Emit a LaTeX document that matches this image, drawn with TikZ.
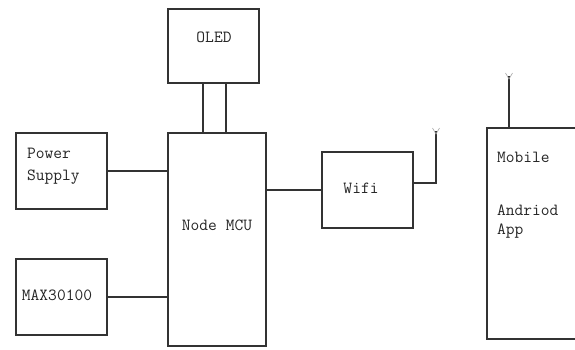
\documentclass[tikz,border=0pt]{standalone}
\usepackage{fontspec}
\usetikzlibrary{calc}
\tikzset{
  blk/.style={draw=black!80, line width=1.3pt, fill=white, inner sep=0pt},
  txt/.style={text=black!85, font=\ttfamily\fontsize{17}{20}\selectfont, inner sep=0pt},
  wire/.style={draw=black!80, line width=1.3pt},
  fork/.style={draw=black!35, line width=0.6pt}
}
\begin{document}
\begin{tikzpicture}[x=1pt,y=-1pt]
\clip (0,0) rectangle (575,349);
\fill[white] (0,0) rectangle (575,349);
% boxes
\node[blk, minimum width=91pt, minimum height=74pt] (oled) at (213.5,46) {};
\node[blk, minimum width=98pt, minimum height=213pt] (mcu) at (217,239.5) {};
\node[blk, minimum width=91pt, minimum height=76pt] (ps) at (61.5,171) {};
\node[blk, minimum width=91pt, minimum height=76pt] (max) at (61.5,297) {};
\node[blk, minimum width=91pt, minimum height=76pt] (wifi) at (367.5,190) {};
\node[blk, minimum width=120pt, minimum height=211pt] (mob) at (547,233.5) {};
% texts
\node[txt] (toled) at (214,37) {OLED};
\node[txt] (tmcu) at (217,225) {Node MCU};
\node[txt, anchor=west, align=left] (tps) at (27,166) {Power\\[2pt]Supply};
\node[txt] (tmax) at (57,295) {MAX30100};
\node[txt] (twifi) at (361,188) {Wifi};
\node[txt, anchor=west] (tmob) at (497,157) {Mobile};
\node[txt, anchor=west, align=left] (tapp) at (497,222) {Andriod\\[-1pt]App};
% connectors
\coordinate (o1) at ($(oled.south)+(-10.5,0)$);
\coordinate (o2) at ($(oled.south)+(12.5,0)$);
\draw[wire] (o1) -- (o1 |- mcu.north);
\draw[wire] (o2) -- (o2 |- mcu.north);
\draw[wire] (ps.east) -- (ps.east -| mcu.west);
\draw[wire] (max.east) -- (max.east -| mcu.west);
\draw[wire] (wifi.west -| mcu.east) -- (wifi.west);
\coordinate (wa) at (436,131);
\coordinate (we) at ($(wifi.east)+(0,-7)$);
\draw[wire] (we) -| (wa);
\coordinate (ma) at (509,76);
\draw[wire] (ma) -- (ma |- mob.north);
% antenna forks
\draw[fork] (432.5,128) -- (436,134) -- (439.5,128);
\draw[fork] (505.5,73) -- (509,79) -- (512.5,73);
\end{tikzpicture}
\end{document}
